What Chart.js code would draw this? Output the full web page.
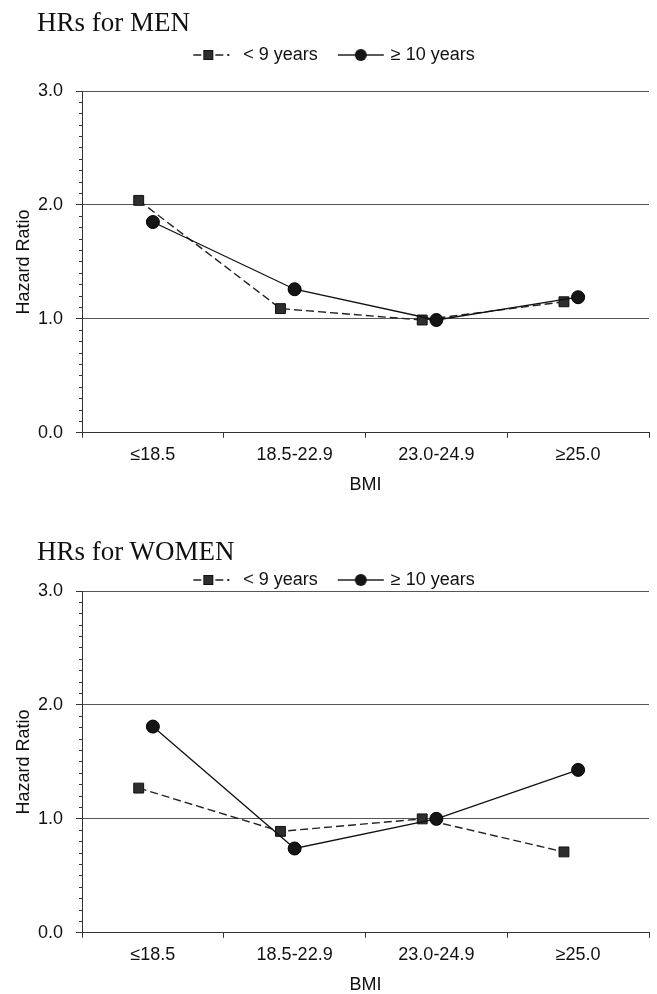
<!DOCTYPE html>
<html><head><meta charset="utf-8">
<script src="https://cdn.jsdelivr.net/npm/chart.js@4.4.1/dist/chart.umd.min.js"></script>
<style>
html,body{margin:0;padding:0;background:#fff;}
#page{position:relative;width:657px;height:994px;overflow:hidden;background:#fff;}
.ttl{position:absolute;left:37px;font-family:"Liberation Serif","Times New Roman",serif;font-size:27px;line-height:30px;color:#111;white-space:nowrap;z-index:2;}
.box{position:absolute;left:0;width:657px;}
</style></head><body>
<div id="page">
  <div class="ttl" style="top:7px">HRs for MEN</div>
  <div class="box" style="top:24px;height:472px"><canvas id="men"></canvas></div>
  <div class="ttl" style="top:536px">HRs for WOMEN</div>
  <div class="box" style="top:549px;height:447px"><canvas id="women"></canvas></div>
</div>
<script>
// ---- data ----
const categories = ['≤18.5', '18.5-22.9', '23.0-24.9', '≥25.0'];
const seriesNames = ['< 9 years', '≥ 10 years'];
const menUnder9 = [2.04, 1.09, 0.99, 1.15];
const menOver10 = [1.85, 1.26, 0.99, 1.19];
const womenUnder9 = [1.27, 0.89, 1.00, 0.71];
const womenOver10 = [1.81, 0.74, 1.00, 1.43];
const yTickLabels = ['0.0', '1.0', '2.0', '3.0'];
const xTitle = 'BMI';
const yTitle = 'Hazard Ratio';

// ---- style ----
const SQUARE_SHIFT = -0.1; // squares drawn slightly left of category centre
const FONT = 18;
Chart.defaults.font.family = '"Liberation Sans", Arial, sans-serif';
Chart.defaults.font.size = FONT;
Chart.defaults.color = '#111';

function makeLegendIcon(kind) {
  const c = document.createElement('canvas');
  const w = kind === 'square' ? 42 : 48, h = 16;
  c.width = w; c.height = h;
  const g = c.getContext('2d');
  g.strokeStyle = '#222'; g.lineWidth = 1.4;
  if (kind === 'square') {
    g.beginPath(); g.moveTo(1, 8); g.lineTo(9, 8); g.moveTo(23, 8); g.lineTo(31, 8); g.stroke();
    g.fillStyle = '#2e2e2e'; g.fillRect(11, 3, 10, 10);
    g.strokeStyle = '#111'; g.lineWidth = 1; g.strokeRect(11.5, 3.5, 9, 9);
    g.fillStyle = '#222'; g.fillRect(35, 7, 2, 2);
  } else {
    g.beginPath(); g.moveTo(1, 8); g.lineTo(47, 8); g.stroke();
    g.beginPath(); g.arc(24, 8, 6, 0, Math.PI * 2); g.fillStyle = '#151515'; g.fill();
  }
  return c;
}
const legendIcons = [makeLegendIcon('square'), makeLegendIcon('circle')];

function isMajor(v) { return Math.abs(v * 10 - Math.round(v) * 10) < 1e-6; }

function makeChart(id, under9, over10, legendExtra, spacer) {
  const xTicks = [];
  for (let i = 0; i <= categories.length * 2; i++) xTicks.push(0.5 + i * 0.5);
  const yTicks = [];
  for (let i = 0; i <= (yTickLabels.length - 1) * 10; i++) yTicks.push(i / 10);

  const plugins = {
    legend: Object.assign({
      display: true, position: 'top',
      labels: {
        usePointStyle: true, pointStyleWidth: 42, padding: 22, color: '#111',
        font: {size: FONT},
        sort: (a, b) => a.datasetIndex - b.datasetIndex,
        generateLabels: chart => {
          const items = Chart.defaults.plugins.legend.labels.generateLabels(chart);
          items.forEach(it => { it.pointStyle = legendIcons[it.datasetIndex]; it.fontColor = '#111'; });
          return items;
        }
      }
    }, legendExtra),
    tooltip: {enabled: false}
  };
  if (spacer) {
    plugins.subtitle = {display: true, text: '', weight: 500, padding: 0, font: {size: 1, lineHeight: spacer}};
  }

  return new Chart(document.getElementById(id), {
    type: 'line',
    data: {
      datasets: [
        {
          label: seriesNames[0],
          data: under9.map((v, i) => ({x: i + 1 + SQUARE_SHIFT, y: v})),
          borderColor: '#222', borderWidth: 1.4, borderDash: [8, 4],
          pointStyle: 'rect', pointRadius: 7, pointBackgroundColor: '#2e2e2e',
          pointBorderColor: '#111', pointBorderWidth: 1, fill: false, tension: 0, order: 2
        },
        {
          label: seriesNames[1],
          data: over10.map((v, i) => ({x: i + 1, y: v})),
          borderColor: '#111', borderWidth: 1.3,
          pointStyle: 'circle', pointRadius: 6.5, pointBackgroundColor: '#151515',
          pointBorderColor: '#000', pointBorderWidth: 1, fill: false, tension: 0, order: 1
        }
      ]
    },
    options: {
      responsive: true, maintainAspectRatio: false, animation: false,
      layout: {padding: {left: 10, right: 0, top: 0, bottom: 0}},
      plugins,
      scales: {
        x: {
          type: 'linear', min: 0.5, max: 4.5,
          afterBuildTicks: s => { s.ticks = xTicks.map(v => ({value: v})); },
          ticks: {
            autoSkip: false, maxRotation: 0, minRotation: 0, padding: 6, color: '#111', font: {size: FONT},
            callback: v => Number.isInteger(v) ? categories[v - 1] : ''
          },
          grid: {
            drawOnChartArea: false, tickLength: 5, lineWidth: 1,
            tickColor: ctx => (ctx.tick && Number.isInteger(ctx.tick.value)) ? 'rgba(0,0,0,0)' : '#333'
          },
          border: {color: '#333', width: 1},
          title: {display: true, text: xTitle, color: '#111', font: {size: FONT}, padding: {top: 3, bottom: 0}}
        },
        y: {
          type: 'linear', min: 0, max: 3,
          afterBuildTicks: s => { s.ticks = yTicks.map(v => ({value: v})); },
          afterFit: s => { s.width = 72; },
          ticks: {
            autoSkip: false, padding: 13, color: '#111', font: {size: FONT},
            callback: v => isMajor(v) ? yTickLabels[Math.round(v)] : ''
          },
          grid: {
            tickLength: 6, lineWidth: 1, tickColor: '#333',
            color: ctx => (ctx.tick && isMajor(ctx.tick.value) && ctx.tick.value > 0) ? '#555' : 'rgba(0,0,0,0)',
            tickBorderDash: ctx => (ctx.tick && isMajor(ctx.tick.value)) ? [] : [0, 3, 3, 0]
          },
          border: {color: '#333', width: 1},
          title: {display: true, text: yTitle, color: '#111', font: {size: FONT}, padding: {top: 3, bottom: 3}}
        }
      }
    }
  });
}

makeChart('men', menUnder9, menOver10, {}, 17);
makeChart('women', womenUnder9, womenOver10, {maxHeight: 42}, 0);
</script>
</body></html>
